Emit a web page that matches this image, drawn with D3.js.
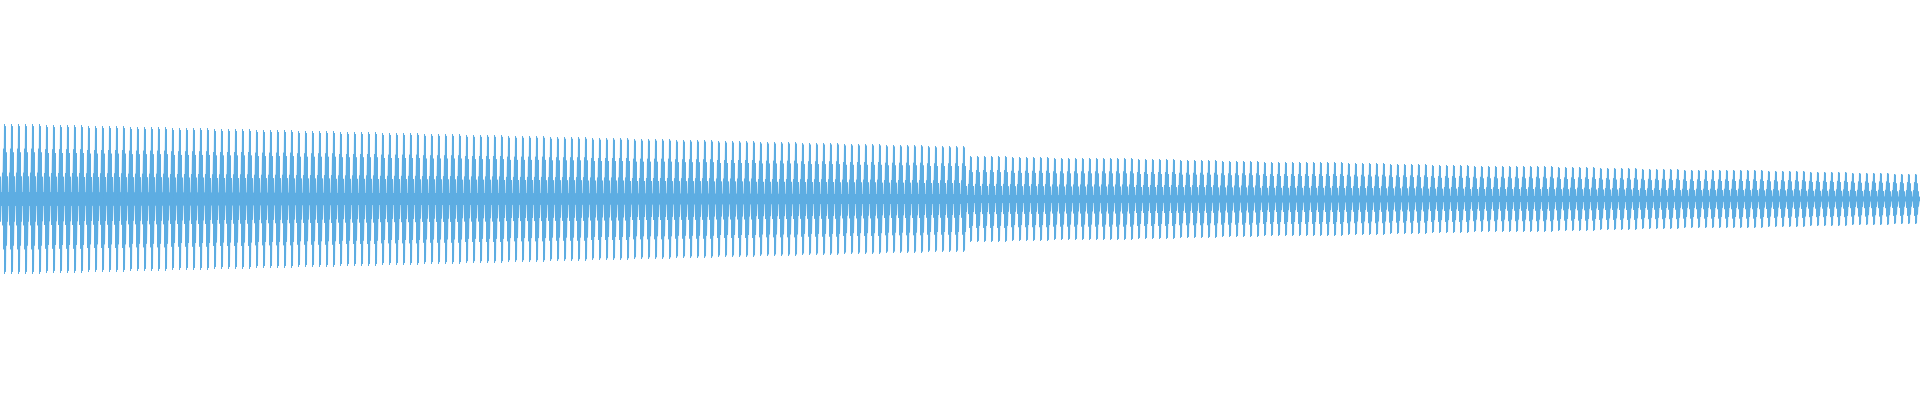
<!DOCTYPE html>
<html>
<head>
<meta charset="utf-8">
<script src="https://cdn.jsdelivr.net/npm/d3@7"></script>
<style>
  html, body { margin: 0; padding: 0; background: #ffffff; }
  svg { display: block; }
</style>
</head>
<body>
<svg id="chart" width="1920" height="400"></svg>
<script>
// Relative amplitude of each pixel column inside one cycle (7 columns per cycle)
const cycleShape = [0.30, 0.09, 0.35, 0.67, 1.00, 0.97, 0.62];
// Peak amplitude of cycles, read every 6 cycles, first part (before the drop)
const peaksFirst = [75, 74, 73, 72, 71, 70, 69, 68, 67, 66, 65, 64, 63, 62, 61, 60, 59, 58, 57, 56, 55, 54, 53];
// Peak amplitude of cycles, read every 6 cycles, second part (after the drop)
const peaksSecond = [43, 42, 41, 41, 40, 39, 38, 37, 37, 36, 35, 34, 33, 33, 32, 31, 30, 29, 29, 28, 27, 26, 25];
const cyclesPerReading = 6;
const dropCycle = 138;
const totalCycles = 275;

const width = 1920, height = 400;
const svg = d3.select("#chart");

// Build samples: each column has an upper and a lower sample
const samples = [];
for (let k = 0; k < totalCycles; k++) {
  const peak = k < dropCycle
    ? peaksFirst[Math.min(peaksFirst.length - 1, Math.floor(k / cyclesPerReading))]
    : peaksSecond[Math.min(peaksSecond.length - 1, Math.floor((k - dropCycle) / cyclesPerReading))];
  cycleShape.forEach((s, j) => {
    const col = k * cycleShape.length + j;
    samples.push({ col: col, v: peak * s });
    samples.push({ col: col, v: -peak * s });
  });
}

const x = d3.scaleLinear().domain([0, width]).range([0, width]);
const y = d3.scaleLinear().domain([-200, 200]).range([399, -1]);

const line = d3.line()
  .x(d => x(d.col + 0.5))
  .y(d => y(d.v));

svg.append("path")
  .datum(samples.filter(d => d.col < width))
  .attr("fill", "none")
  .attr("stroke", "#5DADE2")
  .attr("stroke-width", 1)
  .attr("d", line);
</script>
</body>
</html>
